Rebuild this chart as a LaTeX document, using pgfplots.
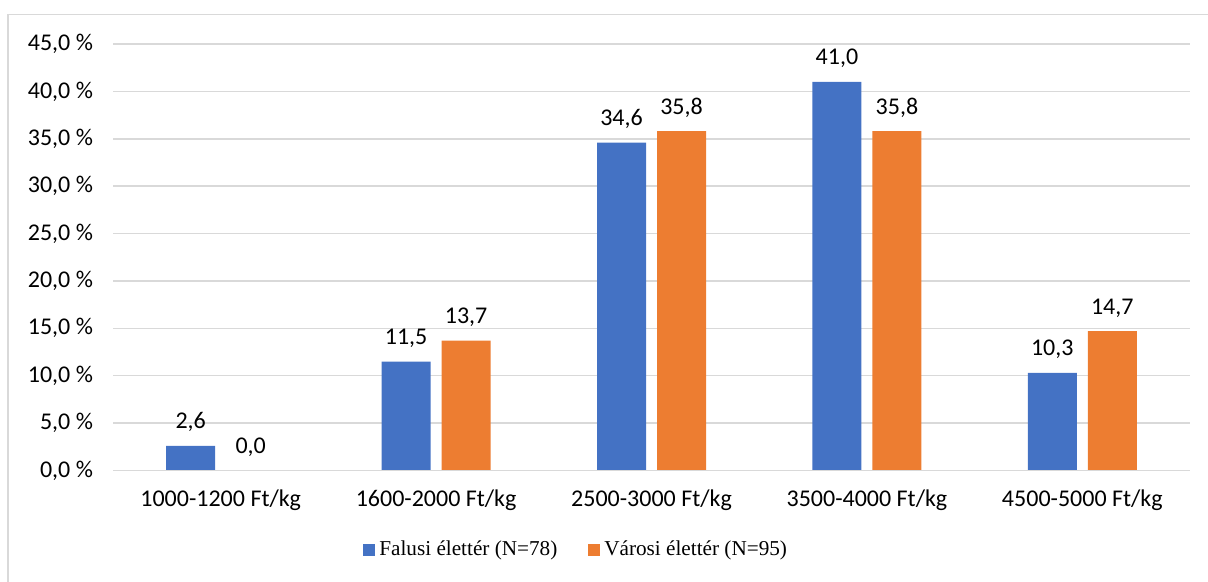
\documentclass[border=0pt]{standalone}
\usepackage{fontspec}
\setmainfont{Carlito}
\newfontfamily\legfont{Liberation Serif}
\usepackage{pgfplots}
\pgfplotsset{compat=1.18}
\definecolor{cblue}{HTML}{4472C4}
\definecolor{corange}{HTML}{ED7D31}
\definecolor{cgrid}{HTML}{D9D9D9}
\begin{document}
\begin{tikzpicture}
\path[use as bounding box] (-56.5pt,-55.75pt) rectangle (547.5pt,235.25pt);
\draw[cgrid, line width=0.9pt] (-52.5pt,-55.75pt) -- (-52.5pt,228pt) -- (547.5pt,228pt);
\begin{axis}[
  scale only axis,
  width=538.5pt, height=213.25pt,
  ybar=5.5pt, bar width=24.5pt,
  xmin=-0.5, xmax=4.5,
  ymin=0, ymax=45,
  ytick={0,5,...,45},
  xtick=data,
  xticklabels={1000-1200 Ft/kg,1600-2000 Ft/kg,2500-3000 Ft/kg,3500-4000 Ft/kg,4500-5000 Ft/kg},
  /pgf/number format/assume math mode=true,
  yticklabel={\pgfmathprintnumber[fixed,fixed zerofill,precision=1,use comma]{\tick} \%},
  tick label style={font=\fontsize{12pt}{14pt}\selectfont, text=black},
  yticklabel style={xshift=-6.5pt},
  xticklabel style={yshift=-6pt},
  ymajorgrids, grid style={cgrid, line width=0.75pt},
  axis line style={draw=none},
  major tick length=0pt,
  tick style={draw=none},
  nodes near coords={\pgfmathprintnumber[fixed,fixed zerofill,precision=1,use comma]{\pgfplotspointmeta}},
  every node near coord/.append style={font=\fontsize{12pt}{14pt}\selectfont, text=black, anchor=base, yshift=8.5pt},
  legend columns=2,
  legend style={at={(0.431,0)}, anchor=center, yshift=-39.75pt, draw=none, font=\legfont\fontsize{10.6pt}{12pt}\selectfont, /tikz/every even column/.append style={column sep=13.5pt}},
  legend image code/.code={\fill[#1] (0pt,-3pt) rectangle (6pt,3pt);},
  clip=false,
]
\addplot[fill=cblue, draw=none] coordinates {(0,2.6) (1,11.5) (2,34.6) (3,41.0) (4,10.3)};
\addplot[fill=corange, draw=none] coordinates {(0,0.0) (1,13.7) (2,35.8) (3,35.8) (4,14.7)};
\legend{Falusi élettér (N=78),Városi élettér (N=95)}
\draw[cgrid, line width=0.9pt] (rel axis cs:0,0) -- (rel axis cs:1,0);
\end{axis}
\end{tikzpicture}
\end{document}
